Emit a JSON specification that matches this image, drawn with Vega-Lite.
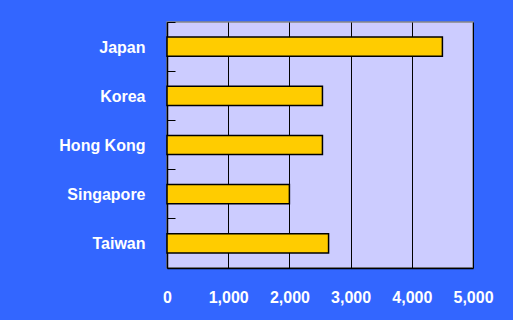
{
  "$schema": "https://vega.github.io/schema/vega-lite/v6.json",
  "autosize": "none",
  "width": 306,
  "height": 246,
  "padding": {"left": 167, "top": 22, "right": 40, "bottom": 52},
  "background": "#3366FF",
  "data": {"values": [
    {"country": "Japan", "value": 4500},
    {"country": "Korea", "value": 2540},
    {"country": "Hong Kong", "value": 2540},
    {"country": "Singapore", "value": 2000},
    {"country": "Taiwan", "value": 2640}
  ]},
  "mark": {"type": "bar", "fill": "#FFCC00", "stroke": "#000000", "strokeWidth": 1.5, "height": {"band": 0.39}},
  "encoding": {
    "y": {
      "field": "country", "type": "nominal", "sort": null,
      "scale": {"paddingInner": 0, "paddingOuter": 0},
      "axis": {
        "title": null, "bandPosition": 0, "grid": false,
        "domainColor": "#000000", "domainWidth": 1.5,
        "tickColor": "#000000", "tickSize": -8, "tickWidth": 1,
        "labelColor": "#FFFFFF", "labelFont": "Liberation Sans", "labelFontSize": 16, "labelFontWeight": "bold",
        "labelPadding": 30, "labelOffset": 1
      }
    },
    "x": {
      "field": "value", "type": "quantitative",
      "scale": {"domain": [0, 5000], "nice": false},
      "axis": {
        "title": null, "values": [0, 1000, 2000, 3000, 4000, 5000], "format": ",.0f",
        "grid": true, "gridColor": "#000000", "gridWidth": 1, "gridOpacity": 1,
        "domainColor": "#000000", "domainWidth": 1.5,
        "ticks": false, "labelPadding": 21,
        "labelColor": "#FFFFFF", "labelFont": "Liberation Sans", "labelFontSize": 16, "labelFontWeight": "bold",
        "labelOverlap": false, "labelFlush": false
      }
    }
  },
  "config": {
    "view": {"fill": "#CCCCFF", "stroke": "#888888", "strokeWidth": 1.5}
  }
}
